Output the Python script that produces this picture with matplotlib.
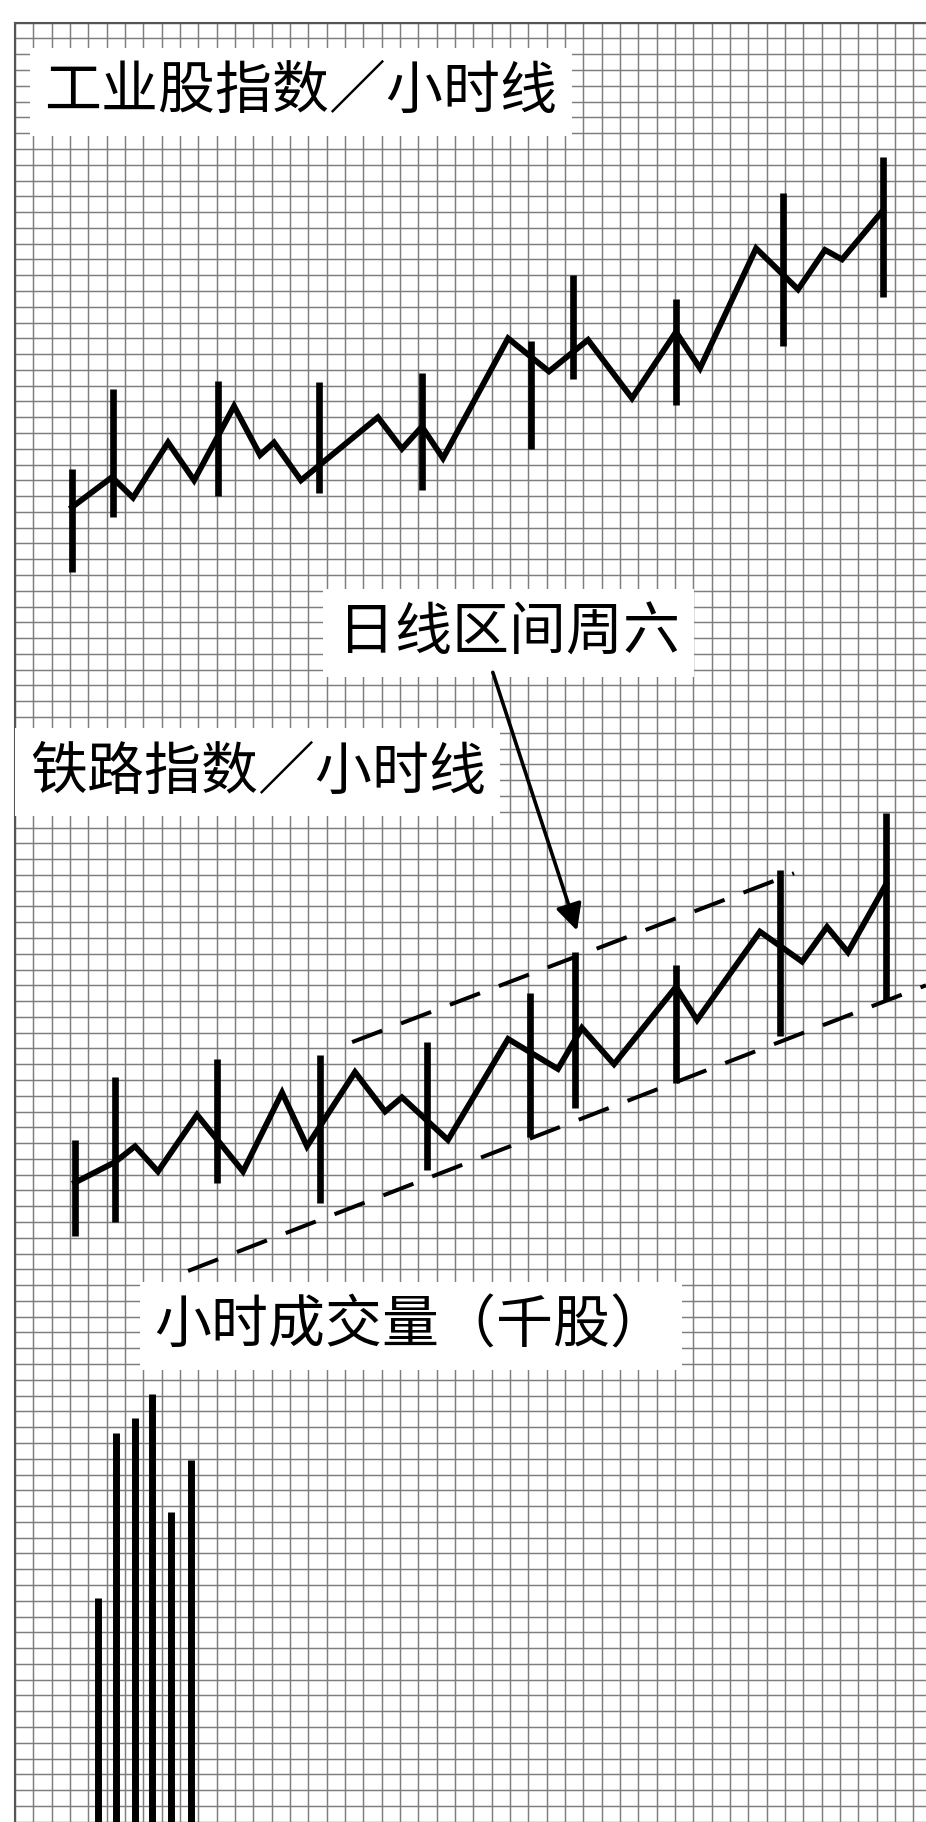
import numpy as np
import matplotlib
matplotlib.use('Agg')
import matplotlib.pyplot as plt

plt.rcParams['font.family'] = ['Noto Sans CJK SC', 'DejaVu Sans']

# all values in chart-paper units: x = grid column, y = grid row counted up from the bottom edge

# industrial average, hourly closes
ind_x = [3.11, 5.29, 6.44, 8.35, 9.77, 11.95, 13.37, 14.13, 15.60, 19.80, 21.11, 22.20,
         23.35, 26.90, 29.13, 31.26, 33.66, 36.06, 37.37, 40.43, 42.72, 44.19, 45.12, 47.35]
ind_y = [83.3, 85.2, 83.9, 87.4, 85.0, 89.7, 86.6, 87.4, 85.0, 89.0, 87.0, 88.4,
         86.4, 94.0, 91.9, 93.9, 90.2, 94.4, 92.1, 99.7, 97.1, 99.6, 99.0, 102.1]
# industrial daily range bars
ind_bar_x = [3.11, 5.35, 11.07, 16.58, 22.20, 28.15, 30.44, 36.06, 41.90, 47.35]
ind_bar_hi = [85.7, 90.8, 91.3, 91.2, 91.8, 93.8, 98.0, 96.5, 103.2, 105.5]
ind_bar_lo = [79.2, 82.7, 84.0, 84.2, 84.4, 87.0, 91.4, 89.8, 93.5, 96.6]

# railroad average, hourly closes
rail_x = [3.27, 5.46, 6.55, 7.80, 9.93, 12.44, 14.57, 15.93, 18.55, 20.19, 21.11, 23.62,
          26.90, 29.62, 30.93, 32.68, 36.06, 37.21, 40.64, 42.94, 44.30, 45.44, 47.52]
rail_y = [40.5, 41.8, 42.8, 41.2, 44.8, 41.2, 46.2, 42.8, 47.5, 45.0, 45.9, 43.2,
          49.6, 47.7, 50.3, 48.0, 52.9, 50.8, 56.4, 54.5, 56.7, 55.1, 59.4]
# railroad daily range bars
rail_bar_x = [3.27, 5.46, 11.02, 16.64, 22.48, 28.10, 30.55, 36.06, 41.73, 47.52]
rail_bar_hi = [43.2, 47.2, 48.3, 48.6, 49.4, 52.5, 55.1, 54.3, 60.3, 63.9]
rail_bar_lo = [37.1, 38.0, 40.5, 39.2, 41.3, 43.4, 45.2, 46.8, 49.8, 52.1]

# channel lines on the railroad chart
upper_x = [18.39, 42.50]
upper_y = [49.4, 60.1]
lower_x = [9.44, 49.70]
lower_y = [34.9, 53.0]

# hourly volume (thousand shares)
vol_x = [4.53, 5.51, 6.55, 7.47, 8.51, 9.60]
vol_y = [14.2, 24.6, 25.6, 27.1, 19.6, 22.9]

fig = plt.figure(figsize=(9.26, 18.22), dpi=100)
ax = fig.add_axes([15 / 926, 0, 911 / 926, 1799.3 / 1822])
ax.set_xlim(0, 49.70)
ax.set_ylim(-0.02, 114)

# chart paper
ax.set_xticks(np.arange(0, 50))
ax.set_yticks(np.arange(0, 115))
ax.tick_params(length=0, labelbottom=False, labelleft=False)
ax.grid(True, color='#7d7d7d', lw=1.05)
ax.set_axisbelow(True)
for s in ['right', 'bottom']:
    ax.spines[s].set_visible(False)
for s in ['left', 'top']:
    ax.spines[s].set_color('#555555')
    ax.spines[s].set_linewidth(1.5)

# industrials
ax.plot(ind_x, ind_y, color='black', lw=4.2, solid_joinstyle='miter', zorder=4)
ax.vlines(ind_bar_x, ind_bar_lo, ind_bar_hi, color='black', lw=4.8, zorder=4)

# rails
ax.plot(rail_x, rail_y, color='black', lw=4.2, solid_joinstyle='miter', zorder=4)
ax.vlines(rail_bar_x, rail_bar_lo, rail_bar_hi, color='black', lw=4.8, zorder=4)
ax.plot(upper_x, upper_y, color='black', lw=2.9, dashes=(8, 5), zorder=4)
ax.plot(lower_x, lower_y, color='black', lw=2.9, dashes=(8, 5), zorder=4)

# volume
ax.vlines(vol_x, -1, vol_y, color='black', lw=5.0, zorder=4)

box = dict(boxstyle='square,pad=0.26', fc='white', ec='none')
txt = dict(fontsize=41, fontweight='medium', va='center', ha='left', bbox=box, zorder=5)
ax.text(1.6, 109.6, '工业股指数／小时线', **txt)
ax.text(17.6, 75.3, '日线区间周六', **txt)
ax.text(0.8, 66.5, '铁路指数／小时线', **txt)
ax.text(7.6, 31.4, '小时成交量（千股）', **txt)

ax.annotate('', xy=(30.71, 56.3), xytext=(26.02, 73.0),
            arrowprops=dict(arrowstyle='-|>', color='black', lw=2.6, mutation_scale=40),
            zorder=5)

fig.savefig('out.png', dpi=100, facecolor='white')
